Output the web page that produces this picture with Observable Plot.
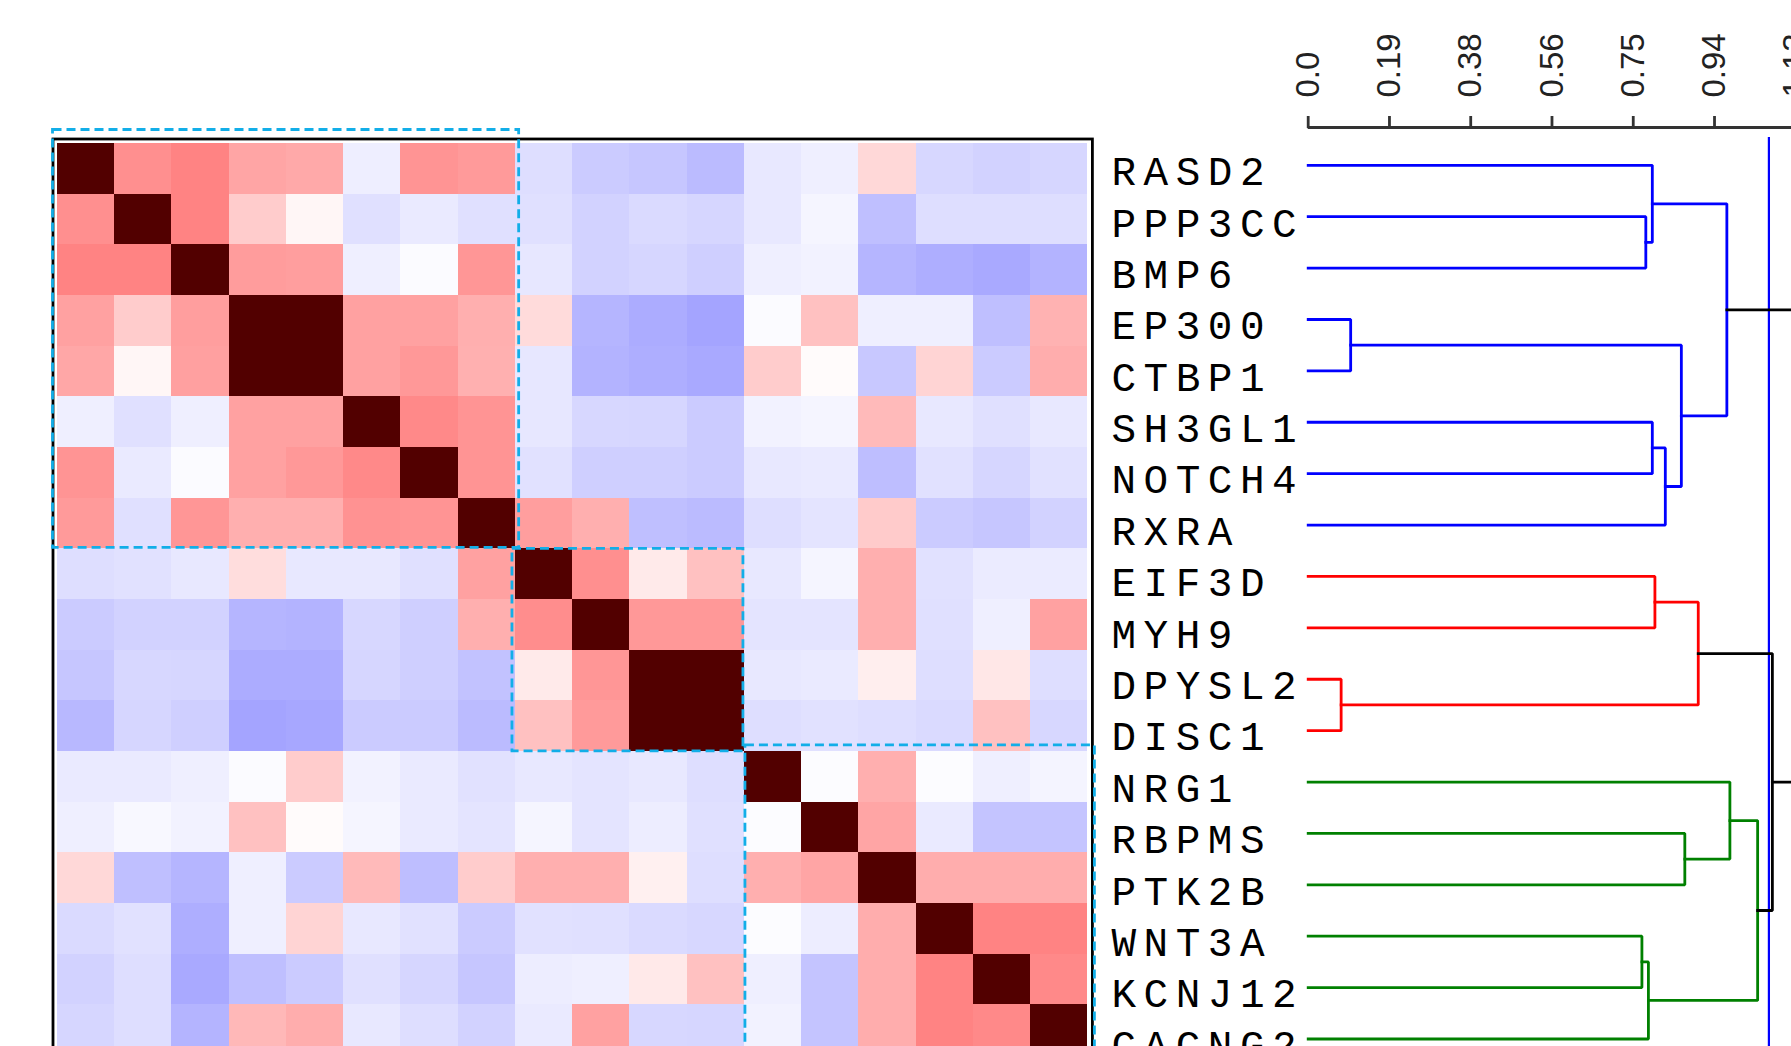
<!DOCTYPE html>
<html><head><meta charset="utf-8">
<script src="https://cdn.jsdelivr.net/npm/d3@7"></script>
<script src="https://cdn.jsdelivr.net/npm/@observablehq/plot@0.6"></script>
<style>
html,body{margin:0;padding:0;background:#fff;}
#chart{position:relative;width:1791px;height:1046px;overflow:hidden;background:#fff;}
#chart svg{position:absolute;background:transparent !important;max-width:none !important;}
</style></head><body><div id="chart"></div>
<script>
// ---------- data ----------
const genes = ["RASD2","PPP3CC","BMP6","EP300","CTBP1","SH3GL1","NOTCH4","RXRA","EIF3D","MYH9","DPYSL2","DISC1","NRG1","RBPMS","PTK2B","WNT3A","KCNJ12","CACNG2"];

const rowRASD2  = [1, 0.60, 0.66, 0.48, 0.46, -0.12, 0.57, 0.54, -0.23, -0.37, -0.40, -0.48, -0.16, -0.11, 0.21, -0.28, -0.32, -0.29];
const rowPPP3CC = [0.60, 1, 0.66, 0.27, 0.05, -0.22, -0.15, -0.22, -0.22, -0.32, -0.26, -0.29, -0.16, -0.07, -0.45, -0.23, -0.23, -0.23];
const rowBMP6   = [0.66, 0.66, 1, 0.53, 0.52, -0.11, -0.03, 0.56, -0.17, -0.32, -0.29, -0.34, -0.11, -0.09, -0.52, -0.57, -0.61, -0.54];
const rowEP300  = [0.50, 0.27, 0.52, 1, 0.95, 0.50, 0.50, 0.43, 0.19, -0.52, -0.59, -0.64, -0.03, 0.33, -0.11, -0.11, -0.45, 0.41];
const rowCTBP1  = [0.47, 0.05, 0.51, 0.95, 1, 0.50, 0.55, 0.42, -0.17, -0.54, -0.57, -0.61, 0.27, 0.02, -0.39, 0.23, -0.37, 0.44];
const rowSH3GL1 = [-0.11, -0.22, -0.11, 0.50, 0.50, 1, 0.63, 0.57, -0.17, -0.28, -0.29, -0.37, -0.09, -0.07, 0.37, -0.16, -0.22, -0.16];
const rowNOTCH4 = [0.57, -0.15, -0.03, 0.50, 0.55, 0.63, 1, 0.57, -0.21, -0.34, -0.34, -0.37, -0.16, -0.15, -0.46, -0.21, -0.29, -0.21];
const rowRXRA   = [0.54, -0.22, 0.56, 0.43, 0.43, 0.58, 0.57, 1, 0.52, 0.43, -0.45, -0.48, -0.23, -0.19, 0.28, -0.37, -0.40, -0.32];
const rowEIF3D  = [-0.23, -0.21, -0.16, 0.18, -0.16, -0.16, -0.22, 0.50, 1, 0.60, 0.11, 0.33, -0.16, -0.07, 0.43, -0.21, -0.14, -0.14];
const rowMYH9   = [-0.37, -0.32, -0.32, -0.52, -0.54, -0.28, -0.34, 0.43, 0.61, 1, 0.55, 0.55, -0.19, -0.19, 0.43, -0.22, -0.11, 0.50];
const rowDPYSL2 = [-0.40, -0.28, -0.29, -0.59, -0.59, -0.29, -0.34, -0.43, 0.11, 0.56, 1, 0.95, -0.16, -0.15, 0.09, -0.23, 0.13, -0.23];
const rowDISC1  = [-0.50, -0.29, -0.34, -0.64, -0.62, -0.37, -0.37, -0.48, 0.33, 0.54, 0.95, 1, -0.23, -0.21, -0.23, -0.26, 0.33, -0.28];
const rowNRG1   = [-0.15, -0.15, -0.11, -0.03, 0.27, -0.09, -0.15, -0.21, -0.16, -0.19, -0.16, -0.23, 1, -0.02, 0.43, -0.02, -0.11, -0.08];
const rowRBPMS  = [-0.11, -0.05, -0.09, 0.33, 0.02, -0.07, -0.15, -0.19, -0.07, -0.19, -0.13, -0.22, -0.02, 1, 0.48, -0.15, -0.42, -0.42];
const rowPTK2B  = [0.21, -0.45, -0.52, -0.11, -0.37, 0.37, -0.46, 0.27, 0.43, 0.43, 0.08, -0.23, 0.43, 0.48, 1, 0.44, 0.44, 0.44];
const rowWNT3A  = [-0.26, -0.21, -0.57, -0.11, 0.23, -0.16, -0.21, -0.37, -0.21, -0.22, -0.26, -0.28, -0.02, -0.13, 0.44, 1, 0.66, 0.66];
const rowKCNJ12 = [-0.32, -0.23, -0.61, -0.45, -0.37, -0.22, -0.29, -0.40, -0.13, -0.11, 0.12, 0.33, -0.11, -0.42, 0.44, 0.66, 1, 0.63];
const rowCACNG2 = [-0.29, -0.23, -0.53, 0.38, 0.44, -0.16, -0.23, -0.32, -0.15, 0.50, -0.28, -0.29, -0.09, -0.42, 0.44, 0.66, 0.63, 1];

// clusters (blocks framed by dashed boxes)
const clusterStart = [0, 8, 12];
const clusterEnd   = [8, 12, 18];
const leafCluster  = ["#0000ff","#0000ff","#0000ff","#0000ff","#0000ff","#0000ff","#0000ff","#0000ff",
                      "#ff0000","#ff0000","#ff0000","#ff0000",
                      "#008000","#008000","#008000","#008000","#008000","#008000"];

// dendrogram linkage (node ids 18.. for merges)
const linkLeft   = [1, 0, 3, 5, 21, 20, 19, 8, 10, 25, 13, 12, 15, 30, 29, 27, 24];
const linkRight  = [2, 18, 4, 6, 7, 22, 23, 9, 11, 26, 14, 28, 16, 17, 31, 32, 33];
const linkHeight = [0.779, 0.794, 0.098, 0.794, 0.824, 0.861, 0.966, 0.800, 0.076, 0.900, 0.869, 0.973, 0.770, 0.785, 1.037, 1.071, 1.2];
const cutHeight = 1.063;

const tickValues = [0, 0.1875, 0.375, 0.5625, 0.75, 0.9375, 1.125, 1.3125, 1.5];
const tickLabels = ["0.0", "0.19", "0.38", "0.56", "0.75", "0.94", "1.13", "1.31", "1.5"];

// ---------- build ----------
const matrix = [rowRASD2,rowPPP3CC,rowBMP6,rowEP300,rowCTBP1,rowSH3GL1,rowNOTCH4,rowRXRA,rowEIF3D,rowMYH9,rowDPYSL2,rowDISC1,rowNRG1,rowRBPMS,rowPTK2B,rowWNT3A,rowKCNJ12,rowCACNG2];
const cells = [];
matrix.forEach((r, i) => r.forEach((v, j) => cells.push({row: i, col: j, v})));
const boxes = clusterStart.map((s, k) => ({s, e: clusterEnd[k]}));

const chart = document.getElementById("chart");

const boxStyle = {x1: "s", x2: "e", y1: "s", y2: "e", fill: "none", stroke: "#12aee8", strokeWidth: 2.8, strokeDasharray: "9,5"};

const heat = Plot.plot({
  width: 1100, height: 1100,
  marginLeft: 57, marginRight: 12.6, marginTop: 143, marginBottom: 45.1,
  x: {domain: [0, 18], axis: null},
  y: {domain: [0, 18], reverse: true, axis: null},
  color: {type: "linear", domain: [-0.7, 0, 0.7, 0.85, 1], range: ["#9c9cff", "#ffffff", "#ff7c7c", "#520000", "#520000"], interpolate: "rgb"},
  marks: [
    Plot.rect(cells, {x1: "col", x2: d => d.col + 1, y1: "row", y2: d => d.row + 1, fill: "v", shapeRendering: "crispEdges"}),
    Plot.frame({stroke: "#000", strokeWidth: 2.8, inset: -4.5}),
    Plot.rect(boxes.slice(0, 1), {...boxStyle, insetTop: -13.5, insetLeft: -4.5, insetRight: -3.7, insetBottom: 1}),
    Plot.rect(boxes.slice(1, 2), {...boxStyle, insetLeft: -3, insetRight: 1}),
    Plot.rect(boxes.slice(2, 3), {...boxStyle, insetTop: -6, insetLeft: 1, insetRight: -7})
  ]
});
heat.style.left = "0px"; heat.style.top = "0px";
chart.appendChild(heat);

// dendrogram geometry
const nodes = genes.map((g, i) => ({h: 0, y: i, cl: leafCluster[i]}));
const linkPoints = [];
linkLeft.forEach((a, j) => {
  const b = linkRight[j], h = linkHeight[j];
  const A = nodes[a], B = nodes[b];
  const node = {h, y: (A.y + B.y) / 2, cl: A.cl};
  const color = h < cutHeight ? A.cl : "#000000";
  nodes.push(node);
  const id = 18 + j;
  linkPoints.push({id, color, x: A.h, y: A.y}, {id, color, x: h, y: A.y}, {id, color, x: h, y: B.y}, {id, color, x: B.h, y: B.y});
});

const dendroYDomain = [-0.7355, 17];
const dendro = Plot.plot({
  width: 900, height: 1100,
  marginLeft: 207.7, marginRight: 42.2, marginTop: 127, marginBottom: 61.5,
  x: {domain: [0, 1.5], axis: null},
  y: {domain: dendroYDomain, reverse: true, axis: null},
  color: {type: "identity"},
  style: {fontFamily: "Liberation Sans, Arial, sans-serif", color: "#222"},
  marks: [
    Plot.ruleY([dendroYDomain[0]], {stroke: "#333", strokeWidth: 2.8}),
    Plot.axisX({anchor: "top", ticks: tickValues, tickFormat: d => tickLabels[tickValues.indexOf(d)], tickSize: 12, tickPadding: 18, tickRotate: -90, stroke: "#333", strokeWidth: 2.8, fontSize: 33}),
    Plot.ruleX([cutHeight], {stroke: "#0000ff", strokeWidth: 2.2, insetTop: 10, insetBottom: -30}),
    Plot.line(linkPoints, {x: "x", y: "y", z: "id", stroke: "color", strokeWidth: 2.8, strokeLinejoin: "miter", strokeLinecap: "square"}),
    Plot.text(genes, {x: 0, y: (d, i) => i, text: d => d, textAnchor: "start", dx: -196.7, dy: 6.7, fontFamily: "Liberation Mono, DejaVu Sans Mono, monospace", fontSize: 41, fill: "#000"})
  ]
});
dendro.style.left = "1100px"; dendro.style.top = "0px";
chart.appendChild(dendro);
dendro.querySelectorAll('g[aria-label="text"] text').forEach(t => t.style.letterSpacing = "7.5px");
</script></body></html>
